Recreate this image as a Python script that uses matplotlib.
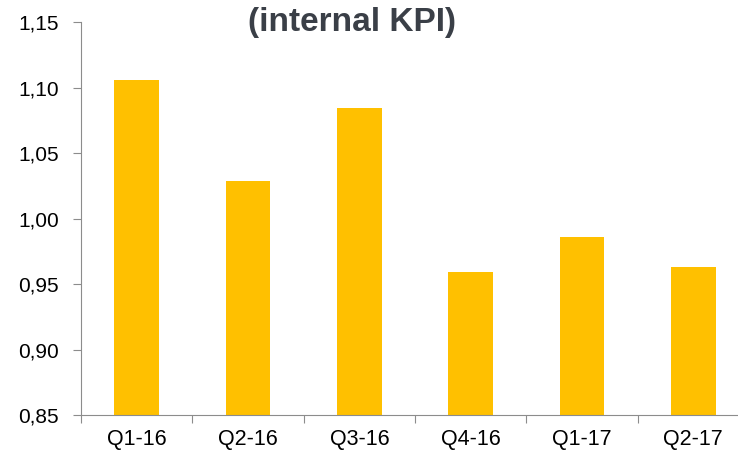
import matplotlib
matplotlib.use('Agg')
import matplotlib.pyplot as plt

quarters = ['Q1-16', 'Q2-16', 'Q3-16', 'Q4-16', 'Q1-17', 'Q2-17']
kpi = [1.106, 1.029, 1.084, 0.959, 0.986, 0.963]
yticks = [0.85, 0.90, 0.95, 1.00, 1.05, 1.10, 1.15]

plt.rcParams['font.family'] = ['Liberation Sans', 'DejaVu Sans']

fig = plt.figure(figsize=(7.38, 4.51), dpi=100)
ax = fig.add_axes([0.1098, 0.0798, 0.905, 0.8714])

x = range(len(quarters))
ax.bar(x, kpi, width=0.4, color='#FFC000', bottom=0, zorder=2)

ax.set_xlim(-0.5, len(quarters) - 0.5)
ax.set_ylim(0.85, 1.15)
ax.set_yticks(yticks)
ax.set_yticklabels([f'{v:.2f}'.replace('.', ',') for v in yticks], fontsize=15)
ax.set_xticks([i - 0.5 for i in range(len(quarters) + 1)], minor=False)
ax.set_xticklabels([''] * (len(quarters) + 1))
ax.set_xticks(list(x), minor=True)
ax.set_xticklabels(quarters, minor=True, fontsize=15.5)
ax.tick_params(axis='x', which='minor', length=0, pad=10)
ax.tick_params(axis='x', which='major', length=6, color='#8c8c8c', direction='out')
ax.tick_params(axis='y', length=6, color='#8c8c8c', pad=10)

for s in ['top', 'right']:
    ax.spines[s].set_visible(False)
for s in ['left', 'bottom']:
    ax.spines[s].set_color('#8c8c8c')

fig.text(0.477, 0.95, '(internal KPI)', ha='center', va='center',
         fontsize=24, fontweight='bold', color='#3a3f47')

fig.savefig('out.png', dpi=100)
